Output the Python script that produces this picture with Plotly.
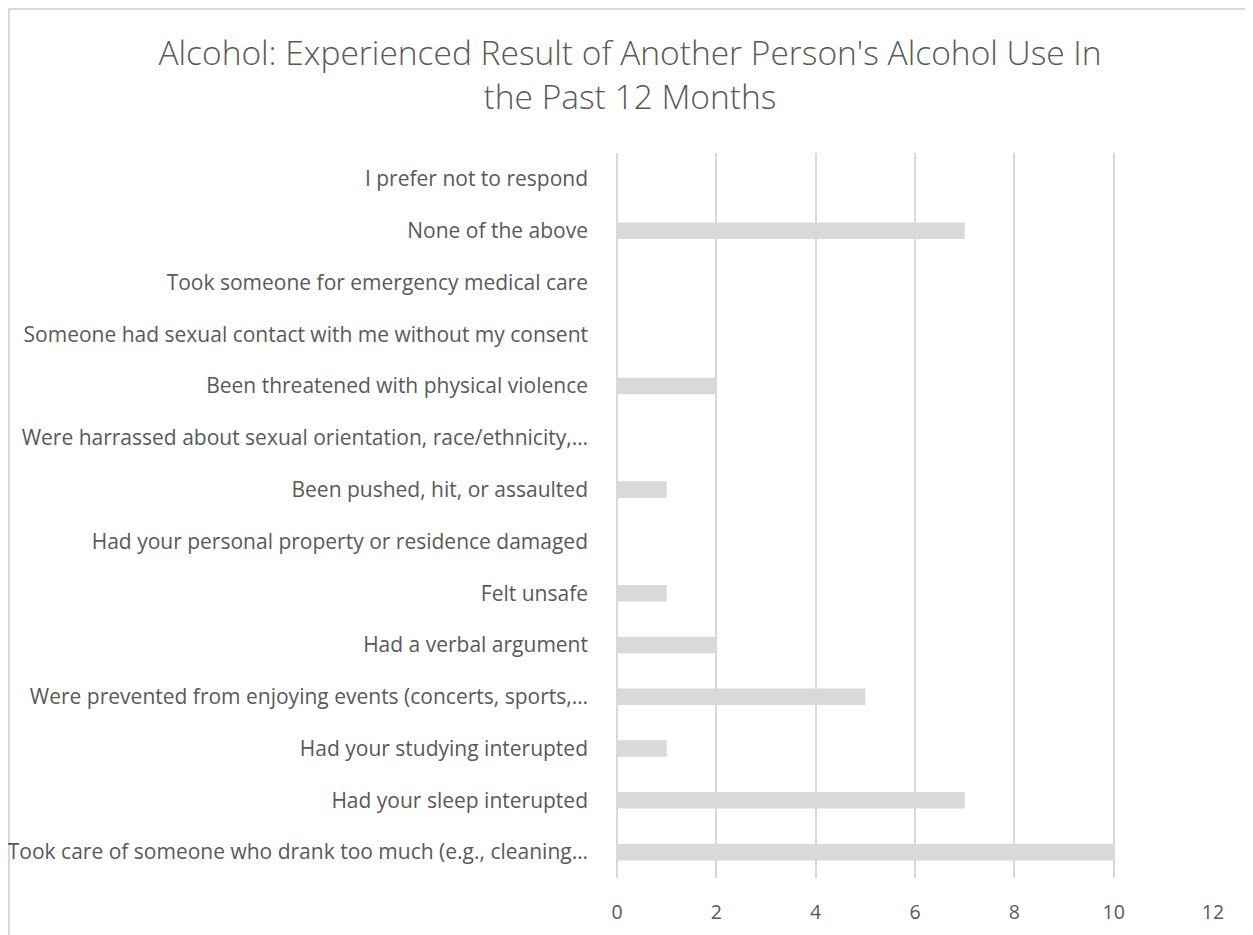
"""Horizontal bar chart: experienced result of another person's alcohol use."""

import plotly.graph_objects as go

CATEGORIES = [
    "Took care of someone who drank too much (e.g., cleaning…",
    "Had your sleep interupted",
    "Had your studying interupted",
    "Were prevented from enjoying events (concerts, sports,…",
    "Had a verbal argument",
    "Felt unsafe",
    "Had your personal property or residence damaged",
    "Been pushed, hit, or assaulted",
    "Were harrassed about sexual orientation, race/ethnicity,…",
    "Been threatened with physical violence",
    "Someone had sexual contact with me without my consent",
    "Took someone for emergency medical care",
    "None of the above",
    "I prefer not to respond",
]
COUNTS = [10, 7, 1, 5, 2, 1, 0, 1, 0, 2, 0, 0, 7, 0]
X_TICKS = [0, 2, 4, 6, 8, 10, 12]

_TEXT = "#595959"
_GRID = "#d9d9d9"
_FONT = "'Open Sans', 'Noto Sans', sans-serif"

# the page body adds an 8px offset, margins below account for it
fig = go.Figure()
fig.add_bar(
    x=COUNTS,
    y=CATEGORIES,
    orientation="h",
    marker_color="#d9d9d9",
    marker_line_width=0,
    width=0.32,
)

fig.update_layout(
    width=1253,
    height=935,
    paper_bgcolor="white",
    plot_bgcolor="white",
    font=dict(family=_FONT, color=_TEXT, size=20),
    margin=dict(l=609, r=48, t=145, b=65, autoexpand=False),
    showlegend=False,
    title=dict(
        text="Alcohol: Experienced Result of Another Person's Alcohol Use In<br>the Past 12 Months",
        x=0.4964,
        xanchor="center",
        y=1 - 57 / 935,
        yanchor="middle",
        font=dict(size=33.5, color=_TEXT, family=_FONT, weight=300),
    ),
    xaxis=dict(
        range=[0, 12],
        tickvals=X_TICKS,
        showgrid=True,
        gridcolor=_GRID,
        gridwidth=2,
        zeroline=True,
        zerolinecolor=_GRID,
        zerolinewidth=2,
        showline=False,
        ticks="",
        ticklabelstandoff=20,
        tickfont=dict(size=19.5, color=_TEXT),
        automargin=False,
        fixedrange=True,
    ),
    yaxis=dict(
        categoryorder="array",
        categoryarray=CATEGORIES,
        showgrid=False,
        showline=False,
        ticks="",
        ticklabelstandoff=28,
        tickfont=dict(size=21, color=_TEXT),
        automargin=False,
        fixedrange=True,
    ),
    shapes=[
        dict(
            type="rect",
            xref="paper",
            yref="paper",
            x0=(1 - 609) / 596,
            x1=1.3,
            y0=-0.3,
            y1=1 + 144 / 725,
            line=dict(color=_GRID, width=2),
            fillcolor="rgba(0,0,0,0)",
            layer="below",
        )
    ],
)

fig.write_html("out.html", config={"displayModeBar": False})
